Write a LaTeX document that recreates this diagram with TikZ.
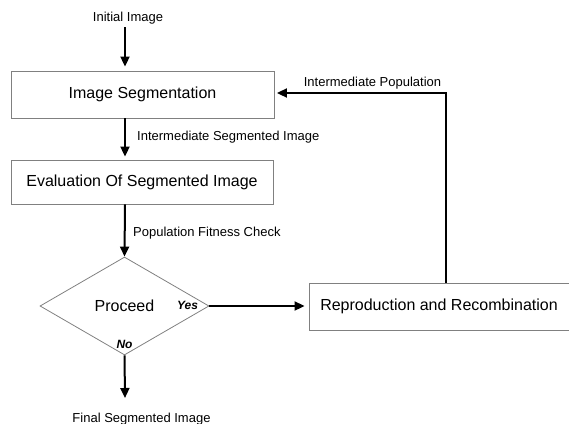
\documentclass[tikz,border=0pt]{standalone}
\usepackage{fontspec}
\setmainfont{Liberation Sans}
\usetikzlibrary{arrows.meta,shapes.geometric}
\begin{document}
\begin{tikzpicture}[x=1pt,y=-1pt,
  box/.style={draw=black!50,line width=0.9pt,inner sep=0pt,
    font=\fontsize{16}{19}\selectfont},
  flow/.style={line width=2pt,-{Triangle[length=10pt,width=9pt]}},
  lbl/.style={inner sep=0pt,font=\fontsize{13}{15}\selectfont},
  tag/.style={inner sep=0pt,font=\fontsize{12}{14}\selectfont\bfseries\itshape}]
\useasboundingbox (0,0) rectangle (569,423);

% process boxes
\node[box,minimum width=263pt,minimum height=47pt] (seg) at (142.5,94.5) {Image Segmentation};
\node[box,minimum width=262pt,minimum height=44pt] (eval) at (142,182) {Evaluation Of Segmented Image};
\node[box,minimum width=260pt,minimum height=47pt] (rep) at (439,306.5) {Reproduction and Recombination};

% decision
\node[diamond,draw=black!50,line width=0.8pt,inner sep=0pt,aspect=1.72,
  minimum width=169pt,minimum height=98pt,font=\fontsize{16}{19}\selectfont]
  (dec) at (124.5,306) {Proceed};
\node[tag] (yes) at (187.5,305) {Yes};
\node[tag] (no) at (124.5,344) {No};

% free ends of the entry and exit arrows
\coordinate (start) at (125,27);
\coordinate (stop) at (125,398);
\coordinate (turn) at (446,93);

% labels
\node[lbl] (inlbl) at (128,18) {Initial Image};
\node[lbl,anchor=west] (l1) at (137,137) {Intermediate Segmented Image};
\node[lbl,anchor=west] (l2) at (133,233) {Population Fitness Check};
\node[lbl] (l3) at (372.5,83) {Intermediate Population};
\node[lbl,anchor=base] (outlbl) at (141.5,422.5) {Final Segmented Image};

% connectors
\draw[flow,shorten >=4pt] (start) -- (start |- seg.north);
\draw[flow,shorten >=3pt] (seg.south -| start) -- (start |- eval.north);
\draw[flow] (eval.south -| start) -- (dec.north);
\draw[flow] (dec.south) -- (stop);
\draw[flow,shorten >=4pt] (dec.east) -- (rep.west |- dec.east);
\draw[flow,shorten >=2.5pt] (rep.north -| turn) -- (turn) -- (turn -| seg.east);
\end{tikzpicture}
\end{document}
